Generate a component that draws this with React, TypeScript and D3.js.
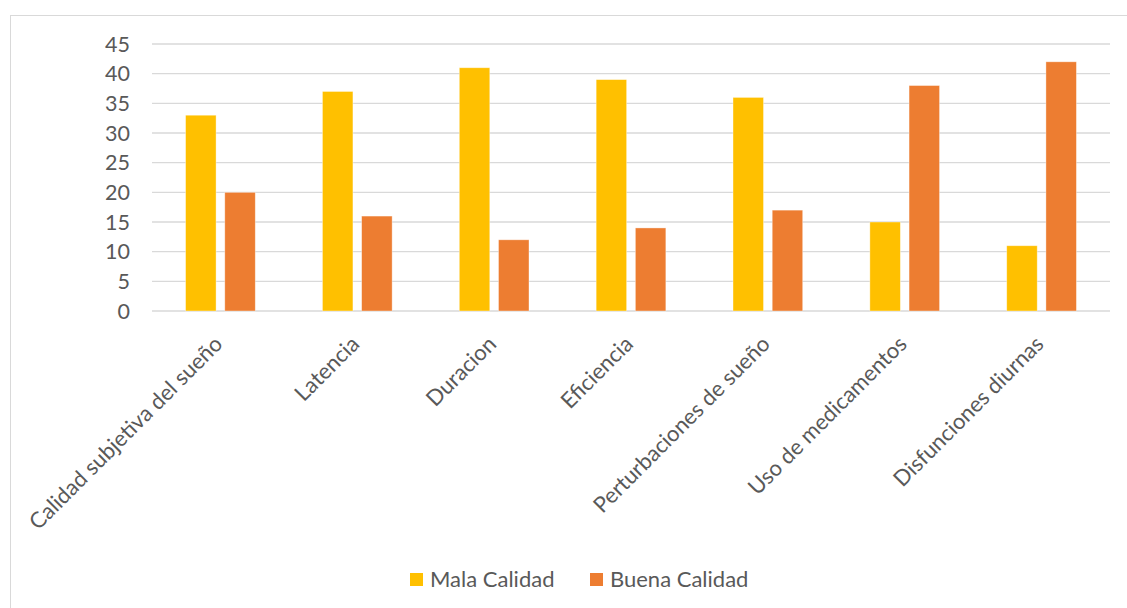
import React from "react";
import * as d3 from "d3";

const categories = [
  "Calidad subjetiva del sueño",
  "Latencia",
  "Duracion",
  "Eficiencia",
  "Perturbaciones de sueño",
  "Uso de medicamentos",
  "Disfunciones diurnas",
];
const seriesNames = ["Mala Calidad", "Buena Calidad"];
const malaCalidad = [33, 37, 41, 39, 36, 15, 11];
const buenaCalidad = [20, 16, 12, 14, 17, 38, 42];
const yTicks = [0, 5, 10, 15, 20, 25, 30, 35, 40, 45];
const colors = ["#FFC000", "#ED7D31"];

export default function App() {
  const W = 1127, H = 608;
  const left = 152, right = 1110, top = 44, bottom = 311;
  const x = d3.scaleBand<string>().domain(categories).range([left, right]).paddingInner(0).paddingOuter(0);
  const y = d3.scaleLinear().domain([0, 45]).range([bottom, top]);
  const bw = 30.5, gap = 8.7;
  const font = "Lato, 'Open Sans', sans-serif";
  const txt = "#595959";
  const series = [malaCalidad, buenaCalidad];
  return (
    <svg width={W} height={H} style={{ position: "absolute", left: 0, top: 0 }}>
      <rect x={0} y={0} width={W} height={H} fill="#fff" />
      <rect x={10.5} y={15.5} width={W + 10} height={H + 10} fill="none" stroke="#D9D9D9" strokeWidth={1} />
      {yTicks.map((t) => (
        <g key={t}>
          <line x1={left} x2={right} y1={y(t)} y2={y(t)} stroke="#D9D9D9" strokeWidth={1.3} />
          <text x={130} y={y(t)} dy="0.36em" textAnchor="end" fontFamily={font} fontSize={21.5} fill={txt}>{t}</text>
        </g>
      ))}
      {categories.map((c, i) => {
        const cx = x(c)! + x.bandwidth() / 2;
        return (
          <g key={c}>
            {series.map((s, k) => {
              const bx = k === 0 ? cx - gap / 2 - bw : cx + gap / 2;
              return (
                <rect key={k} x={bx} y={y(s[i])} width={bw} height={y(0) - y(s[i])} fill={colors[k]} stroke="#fff" strokeOpacity={0.5} strokeWidth={0.75} />
              );
            })}
            <text
              transform={`translate(${cx - 2},${340}) rotate(-45)`}
              textAnchor="end"
              dy="0.35em"
              fontFamily={font}
              fontSize={22}
              fill={txt}
            >{c}</text>
          </g>
        );
      })}
      {seriesNames.map((n, k) => {
        const lx = k === 0 ? 410 : 590;
        return (
          <g key={n}>
            <rect x={lx} y={573} width={13} height={13} fill={colors[k]} />
            <text x={lx + 20} y={579.5} dy="0.35em" fontFamily={font} fontSize={22} fill={txt}>{n}</text>
          </g>
        );
      })}
    </svg>
  );
}
